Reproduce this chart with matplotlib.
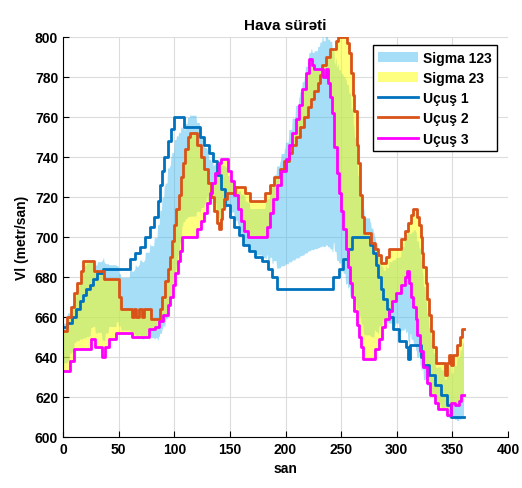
import numpy as np
import matplotlib
matplotlib.use("Agg")
import matplotlib.pyplot as plt

plt.rcParams["font.family"] = ["Liberation Sans", "DejaVu Sans"]
plt.rcParams["font.weight"] = "bold"

# Step breakpoints (time in san, speed in metr/san) for each flight
ucus1_t = [0, 4, 8, 12, 15, 18, 21, 24, 27, 31, 36, 60, 65, 69, 74, 78, 82, 85, 87, 89,
           91, 94, 97, 100, 109, 123, 127, 131, 135, 138, 142, 146, 150, 154, 158, 162, 167, 173, 179, 184,
           188, 192, 243, 248, 252, 256, 260, 276, 279, 281, 283, 286, 288, 291, 293, 297, 302, 308, 310, 312,
           322, 324, 329, 334, 340, 345, 349, 360]
ucus1_v = [655, 657, 660, 664, 668, 671, 674, 676, 679, 682, 684, 689, 692, 695, 700, 705, 710, 718, 726, 733,
           740, 748, 754, 760, 755, 750, 746, 742, 738, 731, 724, 716, 710, 705, 701, 696, 693, 690, 688, 684,
           680, 674, 680, 684, 689, 694, 700, 696, 692, 686, 680, 674, 669, 664, 660, 654, 648, 645, 639, 646,
           640, 636, 631, 626, 621, 616, 610, 610]

ucus2_t = [0, 4, 7, 10, 13, 16, 18, 28, 37, 50, 52, 62, 64, 66, 68, 71, 73, 79, 87, 89,
           92, 94, 96, 98, 100, 102, 104, 106, 108, 110, 112, 114, 120, 124, 127, 130, 133, 136, 138, 140,
           142, 143, 145, 147, 155, 164, 168, 182, 186, 190, 195, 199, 203, 206, 209, 213, 217, 220, 223, 226,
           229, 231, 233, 236, 240, 245, 247, 255, 257, 259, 261, 262, 264, 265, 267, 269, 271, 277, 280, 283,
           286, 290, 293, 304, 307, 310, 313, 315, 318, 320, 322, 323, 324, 326, 327, 329, 331, 333, 335, 343,
           345, 347, 349, 351, 354, 357, 359, 360]
ucus2_v = [653, 660, 665, 672, 677, 683, 688, 683, 679, 670, 664, 660, 664, 660, 664, 660, 664, 659, 664, 670,
           678, 684, 690, 698, 706, 714, 721, 730, 737, 744, 750, 752, 746, 740, 734, 727, 720, 713, 707, 704,
           709, 714, 719, 722, 725, 722, 718, 722, 726, 730, 734, 738, 742, 746, 750, 755, 760, 765, 769, 773,
           777, 781, 786, 790, 794, 798, 800, 797, 792, 782, 771, 763, 746, 737, 721, 710, 702, 697, 694, 691,
           687, 690, 694, 699, 703, 707, 711, 714, 710, 706, 700, 692, 685, 677, 669, 661, 653, 645, 637, 631,
           637, 641, 636, 641, 646, 650, 654, 654]

ucus3_t = [0, 6, 10, 25, 29, 35, 38, 41, 48, 62, 77, 83, 86, 90, 94, 96, 99, 101, 103, 105,
           107, 120, 124, 127, 129, 132, 134, 137, 140, 142, 148, 151, 154, 157, 160, 163, 166, 183, 186, 189,
           192, 196, 200, 203, 206, 209, 212, 215, 218, 221, 224, 226, 234, 236, 238, 240, 242, 244, 246, 248,
           250, 252, 254, 256, 258, 260, 262, 264, 266, 268, 270, 280, 284, 287, 289, 293, 296, 299, 304, 307,
           309, 311, 313, 315, 317, 318, 321, 324, 327, 330, 334, 337, 345, 349, 352, 356, 358, 360]
ucus3_v = [633, 638, 644, 649, 645, 640, 645, 649, 652, 650, 654, 655, 658, 661, 666, 670, 676, 682, 688, 693,
           700, 704, 708, 712, 717, 722, 727, 732, 737, 739, 733, 728, 721, 714, 708, 703, 700, 705, 712, 719,
           726, 733, 739, 746, 752, 759, 766, 774, 782, 789, 786, 784, 780, 784, 777, 770, 762, 745, 732, 722,
           713, 704, 694, 685, 677, 670, 663, 656, 650, 645, 639, 644, 649, 655, 659, 663, 668, 672, 676, 680,
           683, 677, 670, 665, 659, 651, 643, 635, 627, 621, 617, 614, 611, 617, 616, 618, 621, 621]


def hold(t_bp, v_bp, t):
    # value of a step (hold) signal at times t
    idx = np.searchsorted(np.asarray(t_bp), t, side="right") - 1
    return np.asarray(v_bp, dtype=float)[idx]


t = np.arange(0, 360.5, 0.5)
v1 = hold(ucus1_t, ucus1_v, t)
v2 = hold(ucus2_t, ucus2_v, t)
v3 = hold(ucus3_t, ucus3_v, t)

all3 = np.vstack([v1, v2, v3])
m123, s123 = all3.mean(axis=0), all3.std(axis=0)
two = np.vstack([v2, v3])
m23, s23 = two.mean(axis=0), two.std(axis=0)

fig = plt.figure(figsize=(5.22, 4.89), dpi=100)
ax = fig.add_axes([63 / 522, 1 - 438 / 489, 445 / 522, 400 / 489])

ax.fill_between(t, m123 - s123, m123 + s123, color="#4DBEEE", alpha=0.5, lw=0, label="Sigma 123")
ax.fill_between(t, m23 - s23, m23 + s23, color="#FFFF00", alpha=0.5, lw=0, label="Sigma 23")
ax.step(ucus1_t, ucus1_v, where="post", color="#0072BD", lw=2, label="Uçuş 1")
ax.step(ucus2_t, ucus2_v, where="post", color="#D95319", lw=2, label="Uçuş 2")
ax.step(ucus3_t, ucus3_v, where="post", color="#FF00FF", lw=2, label="Uçuş 3")

ax.set_xlim(0, 400)
ax.set_ylim(600, 800)
ax.set_xticks(np.arange(0, 401, 50))
ax.set_yticks(np.arange(600, 801, 20))
ax.tick_params(direction="in", length=4, labelsize=10, top=False, right=False)
ax.grid(True, color="#dcdcdc", lw=0.8)
ax.set_axisbelow(True)
for side in ["top", "right"]:
    ax.spines[side].set_visible(False)

ax.set_title("Hava sürəti", fontsize=11, fontweight="bold", pad=6)
ax.set_xlabel("san", fontsize=10, fontweight="bold")
ax.set_ylabel("Vl (metr/san)", fontsize=10, fontweight="bold")

leg = ax.legend(loc="upper right", bbox_to_anchor=(0.975, 0.98), borderaxespad=0,
                fancybox=False, edgecolor="black", framealpha=1, fontsize=10,
                handlelength=2.9, handletextpad=0.3, labelspacing=0.45)
leg.get_frame().set_linewidth(1)

fig.savefig("out.png", dpi=100)
